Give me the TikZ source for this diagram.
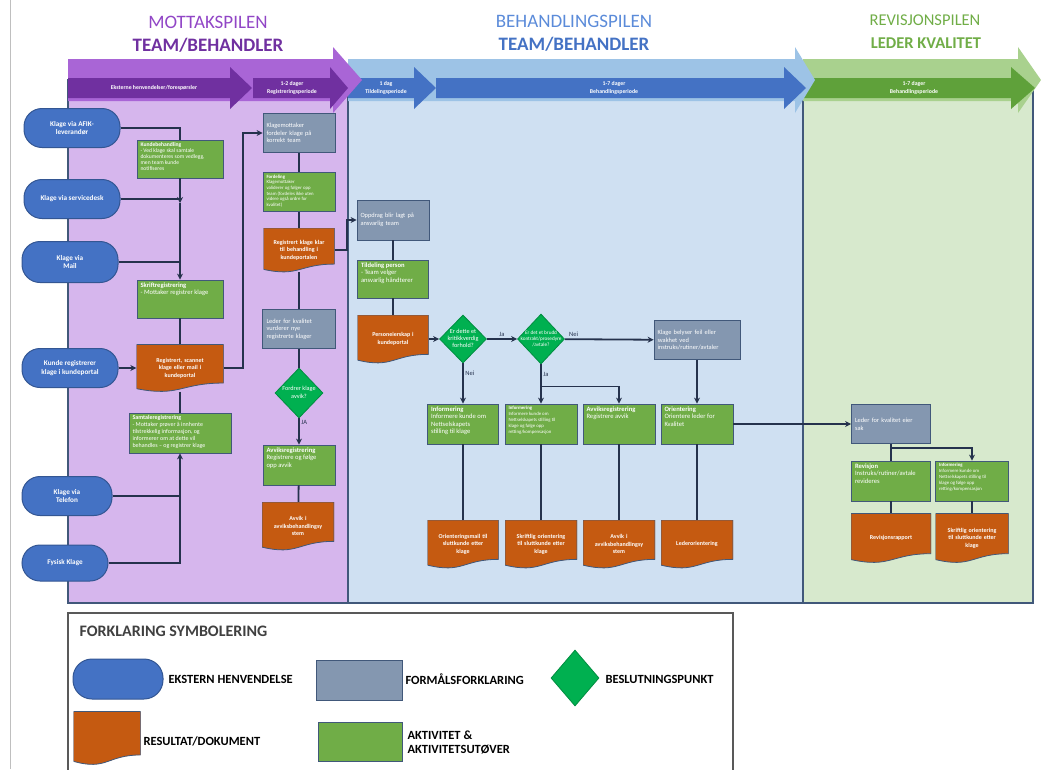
\documentclass[tikz,border=0pt]{standalone}
\usepackage{fontspec}
\setmainfont{Carlito}
\usetikzlibrary{calc}
\usetikzlibrary{arrows.meta}
\usetikzlibrary{shapes.geometric}

\definecolor{lilla}{HTML}{7030A0}
\definecolor{lillatittel}{HTML}{9146C6}
\definecolor{lillamid}{HTML}{A965D6}
\definecolor{lillalys}{HTML}{D6B6ED}
\definecolor{blaa}{HTML}{4472C4}
\definecolor{blaatittel}{HTML}{5B8BD9}
\definecolor{blaamid}{HTML}{9DC3E6}
\definecolor{blaalys}{HTML}{CFE0F2}
\definecolor{groenn}{HTML}{70AD47}
\definecolor{groennmork}{HTML}{5FA13A}
\definecolor{groennmid}{HTML}{A9D18E}
\definecolor{groennlys}{HTML}{D7E9CD}
\definecolor{graablaa}{HTML}{8497B0}
\definecolor{oransje}{HTML}{C55A11}
\definecolor{beslutt}{HTML}{00B050}
\definecolor{linje}{HTML}{25324D}
\definecolor{kant}{HTML}{41587A}
\definecolor{tekstgraa}{HTML}{404040}

\tikzset{
  every node/.style = {font=\fontsize{6.6}{7.6}\selectfont, text=white}
}
\tikzset{
  >={Stealth[length=6pt, width=6pt]}
}
\tikzset{
  ekstern/.style = {rectangle, rounded corners=18pt, fill=blaa, draw=blaa!75!black, line width=1pt,
    minimum width=96pt, minimum height=39pt, align=center, font=\bfseries\fontsize{7.2}{8.6}\selectfont},
  formaal/.style = {rectangle, fill=graablaa, draw=kant, line width=0.8pt, minimum width=72pt,
    minimum height=39pt, text width=65pt, inner xsep=3.5pt, align=left,
    font=\fontsize{6.4}{7.6}\selectfont},
  aktivitet/.style 2 args = {rectangle, fill=groenn, draw=kant, line width=0.8pt, inner sep=0pt,
    minimum width=#1, minimum height=#2,
    execute at begin node={\begin{minipage}[c][\dimexpr#2-5pt\relax][t]{\dimexpr#1-7pt\relax}\raggedright},
    execute at end node={\end{minipage}}},
  dokument/.style 2 args = {rectangle, inner sep=0pt, minimum width=#1, minimum height=#2,
    text width=\dimexpr#1-6pt\relax, align=center, font=\bfseries\fontsize{6}{7.6}\selectfont,
    path picture={
      \filldraw[fill=oransje, draw=kant, line width=0.8pt]
        (path picture bounding box.north west) -- (path picture bounding box.north east)
        -- ($(path picture bounding box.north east)!0.82!(path picture bounding box.south east)$)
        .. controls ($(path picture bounding box.north)!0.82!(path picture bounding box.south)$)
        and ($(path picture bounding box.north)!1.12!(path picture bounding box.south)$)
        .. ($(path picture bounding box.north west)!0.94!(path picture bounding box.south west)$)
        -- cycle;
    }},
  beslutning/.style = {diamond, fill=beslutt, draw=beslutt!80!black, line width=0.8pt, inner sep=0pt,
    minimum width=48pt, minimum height=50pt, align=center, font=\fontsize{6.2}{7.2}\selectfont},
  conn/.style = {draw=linje, line width=1.8pt},
  tynn/.style = {draw=linje, line width=1.2pt},
  svar/.style = {text=linje, font=\fontsize{6.5}{7}\selectfont, inner sep=1.5pt},
  fasetekst/.style = {font=\bfseries\fontsize{5.8}{8.5}\selectfont, align=center},
  tittel/.style = {font=\fontsize{19}{22}\selectfont},
  legendtekst/.style = {anchor=west, align=left, text=black, font=\bfseries\fontsize{12.5}{14}\selectfont}
}

% phase arrow: colour, start, head start, tip, centre y, half shaft, half head
\newcommand{\fasepil}[7]{
  \fill[#1] ({#2},{#5-#6}) -- ({#3},{#5-#6}) -- ({#3},{#5-#7}) -- ({#4},{#5})
    -- ({#3},{#5+#7}) -- ({#3},{#5+#6}) -- ({#2},{#5+#6}) -- cycle;
}
\newcommand{\smalt}[1]{\makebox[20pt]{\begin{tabular}{@{}c@{}}#1\end{tabular}}}

\begin{document}
\begin{tikzpicture}[x=1pt, y=-1pt]
  \useasboundingbox (0,0) rectangle (1041,769);
  \draw[black!25] (10,0) -- (10,769);

  % titles
  \node[tittel, text=lillatittel] (mottakspil) at (208,22) {MOTTAKSPILEN};
  \node[tittel, text=lilla, font=\bfseries\fontsize{19}{22}\selectfont] (mottakteam) at (208,45) {TEAM/BEHANDLER};
  \node[tittel, text=blaatittel] (behandlingspil) at (574,21) {BEHANDLINGSPILEN};
  \node[tittel, text=blaa, font=\bfseries\fontsize{19}{22}\selectfont] (behandlingteam) at (574,44) {TEAM/BEHANDLER};
  \node[tittel, text=groenn, font=\fontsize{16.5}{20}\selectfont] (revisjonspil) at (925,20) {REVISJONSPILEN};
  \node[tittel, text=groenn, font=\bfseries\fontsize{16.5}{20}\selectfont] (lederkvalitet) at (926,43) {LEDER KVALITET};

  % lanes
  \filldraw[fill=lillalys, draw=kant, line width=1.2pt] (68,80) rectangle (348,603);
  \filldraw[fill=blaalys, draw=kant, line width=1.2pt] (348,80) rectangle (803,603);
  \filldraw[fill=groennlys, draw=kant, line width=1.2pt] (803,80) rectangle (1033,603);

  % phase arrows
  \fasepil{groennmid}{803}{1018}{1041}{80}{21}{33}
  \fasepil{groennmork}{804}{1011}{1035}{88}{10}{21}
  \fasepil{blaamid}{348}{795}{815}{80}{21}{33}
  \fasepil{blaa}{348}{414}{436}{88}{10}{21}
  \fasepil{blaa}{436}{784}{806}{88}{10}{21}
  \fasepil{lillamid}{68}{333}{362}{80}{21}{33}
  \fasepil{lilla}{68}{230}{252}{88}{10}{21}
  \fasepil{lilla}{253}{330}{348}{88}{10}{21}

  \node[fasetekst] (eksterne) at (154,88) {Eksterne henvendelser/forespørsler};
  \node[fasetekst] (registrering) at (292,88) {1-2 dager\\Registreringsperiode};
  \node[fasetekst] (tildelingper) at (386,88) {1 dag\\Tildelingsperiode};
  \node[fasetekst] (behandlingper) at (614,88) {1-7 dager\\Behandlingsperiode};
  \node[fasetekst] (revisjonper) at (914,88) {1-7 dager\\Behandlingsperiode};

  % mottak
  \node[ekstern] (afik) at (72,128) {Klage via AFIK-\\leverandør};
  \node[ekstern] (svc) at (72,199) {Klage via servicedesk};
  \node[ekstern, minimum height=41pt] (mail) at (70,262) {Klage via\\Mail};
  \node[ekstern] (kunderp) at (70,368) {Kunde registrerer\\klage i kundeportal};
  \node[ekstern, minimum width=90pt] (telefon) at (67,496) {Klage via\\Telefon};
  \node[ekstern, minimum width=86pt, minimum height=36pt] (fysisk) at (65,563) {Fysisk Klage};

  \node[aktivitet={86pt}{38pt}, font=\fontsize{5.6}{6.1}\selectfont] (kunde) at (180,159)
    {\textbf{Kundebehandling}\\- Ved klage skal samtale\\dokumenteres som vedlegg,\\men team kunde\\notifiseres};
  \node[aktivitet={86pt}{38pt}] (skrift) at (180,299) {\textbf{Skriftregistrering}\\- Mottaker registrer klage};
  \node[dokument={87pt}{47pt}] (regdoc) at (180,368) {Registrert, scannet\\klage eller mail i\\kundeportal};
  \node[aktivitet={102pt}{40pt}, font=\fontsize{6}{7}\selectfont] (samtale) at (180,433)
    {\textbf{Samtaleregistrering}\\- Mottaker prøver å innhente\\tilstrekkelig informasjon, og\\informerer om at dette vil\\behandles – og registrer klage};

  \node[formaal] (fordeler) at (299,133) {Klagemottaker\\fordeler klage på\\korrekt team};
  \node[aktivitet={72pt}{39pt}, font=\fontsize{4.8}{5.6}\selectfont] (fordeling) at (299,192)
    {\textbf{Fordeling}\\Klagemottaker\\validerer og følger opp\\team (fordeles ikke uten\\videre også ordre for\\kvalitet)};
  \node[dokument={71pt}{44pt}] (klar) at (299,250) {Registrert klage klar\\til behandling i\\kundeportalen};
  \node[formaal, minimum width=73pt] (vurderer) at (299,329) {Leder for kvalitet\\vurderer nye\\registrerte klager};
  \node[beslutning] (avvikq) at (299,393) {\smalt{Fordrer klage\\avvik?}};
  \node[aktivitet={72pt}{40pt}] (avviksreg) at (299,465) {\textbf{Avviksregistrering}\\Registrere og følge\\opp avvik};
  \node[dokument={72pt}{48pt}] (avvikdoc) at (298,526) {Avvik i\\avviksbehandlingsy\\stem};

  % behandling
  \node[formaal, minimum width=71pt, minimum height=40pt] (oppdrag) at (393,220) {Oppdrag blir lagt på\\ansvarlig team};
  \node[aktivitet={71pt}{38pt}] (tildeling) at (393,279) {\textbf{Tildeling person}\\- Team velger\\ansvarlig håndterer};
  \node[dokument={71pt}{48pt}] (eierskap) at (393,339) {Personeierskap i\\kundeportal};
  \node[beslutning, minimum width=47pt, minimum height=48pt] (kritisk) at (463,339)
    {\smalt{Er dette et\\kritikkverdig\\forhold?}};
  \node[beslutning, minimum width=47pt, font=\fontsize{5.2}{6}\selectfont] (brudd) at (541,339)
    {\smalt{Er det et brudd\\kontrakt/prosedyre\\/avtale?}};
  \node[formaal, minimum width=86pt, text width=79pt] (belyser) at (697,340)
    {Klage belyser feil eller\\svakhet ved\\instruks/rutiner/avtaler};

  \node[aktivitet={71pt}{40pt}] (info1) at (463,424) {\textbf{Informering}\\Informere kunde om\\Nettselskapets\\stilling til klage};
  \node[aktivitet={72pt}{40pt}, font=\fontsize{4.8}{6}\selectfont] (info2) at (541,424)
    {\textbf{Informering}\\Informere kunde om\\Nettselskapets stilling til\\klage og følge opp\\retting/kompensasjon};
  \node[aktivitet={72pt}{40pt}] (avvik2) at (619,424) {\textbf{Avviksregistrering}\\Registrere avvik};
  \node[aktivitet={72pt}{40pt}] (orient) at (697,424) {\textbf{Orientering}\\Orientere leder for\\Kvalitet};

  \node[dokument={71pt}{48pt}] (orientmail) at (463,544) {Orienteringsmail til\\sluttkunde etter\\klage};
  \node[dokument={72pt}{48pt}] (skriftlig) at (541,544) {Skriftlig orientering\\til sluttkunde etter\\klage};
  \node[dokument={72pt}{48pt}] (avvikdoc2) at (619,544) {Avvik i\\avviksbehandlingsy\\stem};
  \node[dokument={72pt}{48pt}] (lederorient) at (697,544) {Lederorientering};

  % revisjon
  \node[formaal, minimum width=79pt, text width=72pt] (eier) at (891,424) {Leder for kvalitet eier\\sak};
  \node[aktivitet={79pt}{40pt}] (revisjon) at (891,481) {\textbf{Revisjon}\\Instruks/rutiner/avtale\\revideres};
  \node[aktivitet={73pt}{40pt}, font=\fontsize{4.8}{6}\selectfont] (info3) at (972,481)
    {\textbf{Informering}\\Informere kunde om\\Nettselskapets stilling til\\klage og følge opp\\retting/kompensasjon};
  \node[dokument={80pt}{49pt}] (revrapport) at (891,538) {Revisjonsrapport};
  \node[dokument={73pt}{49pt}] (skriftlig2) at (972,538) {Skriftlig orientering\\til sluttkunde etter\\klage};

  % connectors, mottak
  \draw[conn] (afik) -| (kunde);
  \coordinate (svcjoin) at ($(kunde |- svc)+(0,4)$);
  \draw[conn,->] (kunde) -- (svcjoin);
  \draw[conn,->] (svcjoin) -- (skrift);
  \draw[conn] (svc) -- (svc -| kunde);
  \draw[conn] (mail) -- (mail -| kunde);
  \draw[conn] (skrift) -- (regdoc);
  \draw[conn,->] (kunderp) -- (regdoc);
  \draw[conn] (regdoc) -- (samtale);
  \draw[conn] (telefon) -- (telefon -| samtale);
  \draw[conn,->] (fysisk) -| (samtale);
  \draw[conn,->] (regdoc) -| ($(fordeler.west)+(-20,0)$) -- (fordeler);
  \draw[conn] (fordeler) -- (fordeling);
  \draw[conn] (fordeling) -- (klar);
  \draw[conn] (klar) -- (vurderer);
  \draw[conn] (vurderer) -- (avvikq);
  \draw[conn,->] (avvikq) -- node[svar, right, pos=0.15] {JA} (avviksreg);
  \draw[conn] (avviksreg) -- (avvikdoc);
  \draw[conn,->] (klar.east) -- ++(12,0) |- (oppdrag);

  % connectors, behandling
  \draw[conn] (oppdrag) -- (tildeling);
  \draw[conn] (tildeling) -- (eierskap);
  \draw[conn,->] (eierskap) -- (kritisk);
  \draw[conn,->] (kritisk) -- node[svar, above] {Ja} (brudd);
  \draw[conn,->] (brudd) -- node[svar, above, pos=0.1] {Nei} (belyser);
  \draw[conn,->] (kritisk) -- node[svar, right, pos=0.25] {Nei} (info1);
  \draw[conn,->] (brudd) -- node[svar, right, pos=0.25] {Ja} (info2);
  \coordinate (bruddsplit) at ($(brudd.south)+(0,22)$);
  \draw[tynn,->] (bruddsplit) -| (avvik2);
  \draw[conn,->] (belyser) -- (orient);
  \draw[conn,->] (orient) -- (eier);
  \draw[conn] (info1) -- (orientmail);
  \draw[conn] (info2) -- (skriftlig);
  \draw[conn] (avvik2) -- (avvikdoc2);
  \draw[conn] (orient) -- (lederorient);

  % connectors, revisjon
  \draw[conn] (eier) -- (revisjon);
  \coordinate (eiersplit) at ($(eier.south)+(0,4)$);
  \draw[tynn,->] (eiersplit) -| (info3);
  \draw[conn] (revisjon) -- (revrapport);
  \draw[conn] (info3) -- (skriftlig2);

  % legend
  \draw[draw=black!65, line width=1.5pt] (68,613) rectangle (733,780);
  \node[anchor=west, text=tekstgraa, font=\bfseries\fontsize{16}{18}\selectfont] (lgtittel) at (76,631) {FORKLARING SYMBOLERING};
  \node[ekstern, minimum width=90pt, minimum height=40pt, rounded corners=19pt] (lgekstern) at (118,679) {};
  \node[formaal, minimum width=86pt, minimum height=40pt] (lgformaal) at (359,680) {};
  \node[beslutning, minimum width=48pt, minimum height=56pt] (lgbeslutt) at (575,678) {};
  \node[dokument={67pt}{53pt}] (lgdok) at (107,738) {};
  \node[aktivitet={84pt}{39pt}] (lgaktiv) at (360,742) {};
  \node[legendtekst] (lgeksterntekst) at (165,679) {EKSTERN HENVENDELSE};
  \node[legendtekst] (lgformaaltekst) at (402,679) {FORMÅLSFORKLARING};
  \node[legendtekst] (lgbesluttekst) at (602,679) {BESLUTNINGSPUNKT};
  \node[legendtekst] (lgdoktekst) at (140,741) {RESULTAT/DOKUMENT};
  \node[legendtekst] (lgaktivtekst) at (404,742) {AKTIVITET \&\\AKTIVITETSUTØVER};
\end{tikzpicture}
\end{document}
